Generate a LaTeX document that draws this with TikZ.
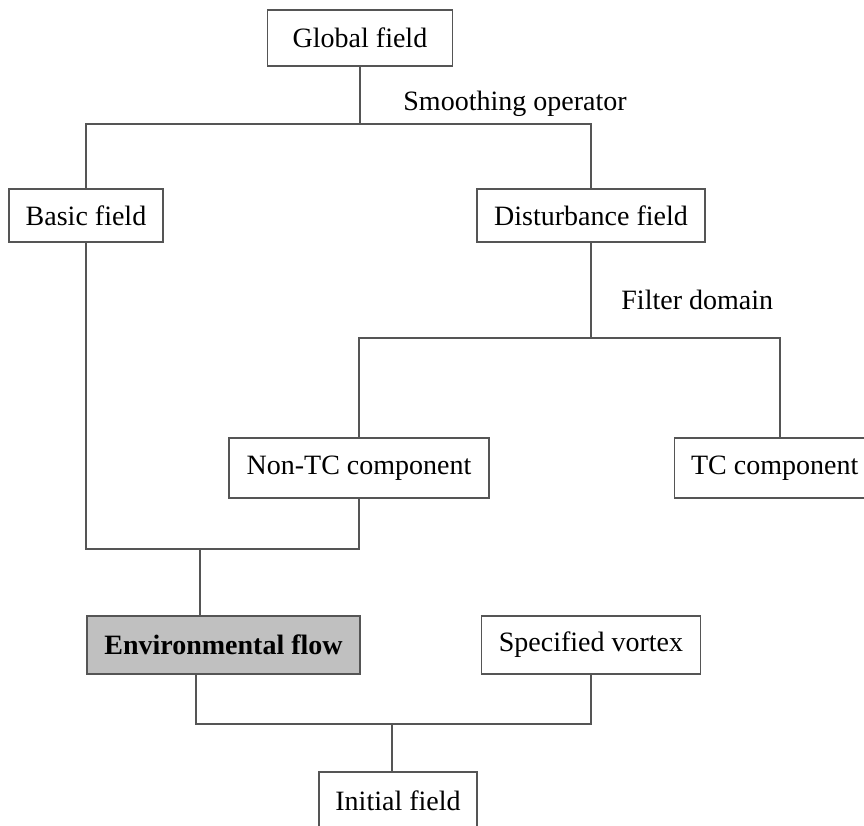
\documentclass[tikz,border=0pt]{standalone}
\usepackage{fontspec}
\setmainfont{Liberation Serif}
\definecolor{linegray}{RGB}{85,85,85}
\definecolor{envgray}{RGB}{192,192,192}
\tikzset{
  box/.style={draw=linegray, line width=0.7pt, inner sep=0pt, text=black},
  wire/.style={draw=linegray, line width=0.7pt},
  lbl/.style={inner sep=0pt, anchor=base west}
}
\begin{document}
\begin{tikzpicture}[x=0.5pt, y=-0.5pt, font=\fontsize{14}{16}\selectfont]
  \useasboundingbox (0,0) rectangle (864,826);
  \clip (0,0) rectangle (864,826);
  % boxes
  \node[box, minimum width=92.5pt, minimum height=28pt] (glob) at (360,38) {Global field};
  \node[box, minimum width=77pt, minimum height=26.5pt] (basic) at (86,215.5) {Basic field};
  \node[box, minimum width=114pt, minimum height=26.5pt] (dist) at (591,215.5) {Disturbance field};
  \node[box, minimum width=130pt, minimum height=30pt] (nontc) at (359,468) {Non-TC component};
  \node[box, minimum width=100pt, minimum height=30pt, anchor=west] (tc) at (674,468) {TC component};
  \node[box, fill=envgray, minimum width=136.5pt, minimum height=29pt] (env) at (223.5,645) {\bfseries Environmental flow};
  \node[box, minimum width=109.5pt, minimum height=29pt] (spec) at (591,645) {Specified vortex};
  \node[box, minimum width=79pt, minimum height=29pt] (init) at (398,801) {Initial field};
  % labels
  \node[lbl] (smooth) at (403,110) {Smoothing operator};
  \node[lbl] (filter) at (621,309) {Filter domain};
  % splitting
  \coordinate (split1) at (360,124);
  \coordinate (split2) at (591,338);
  \coordinate (tcin) at (780,338);
  \draw[wire] (glob) -- (split1);
  \draw[wire] (basic) |- (split1) -| (dist);
  \draw[wire] (dist) -- (split2);
  \draw[wire] (nontc) |- (tcin) -- (tcin |- tc.north);
  % joining
  \coordinate (join1) at (200,549);
  \coordinate (join2) at (392,724);
  \draw[wire] (basic) |- (join1) -| (nontc);
  \draw[wire] (join1) -- (join1 |- env.north);
  \draw[wire] ([xshift=-13.75pt]env.south) |- (join2) -| (spec);
  \draw[wire] (join2) -- (join2 |- init.north);
\end{tikzpicture}
\end{document}
